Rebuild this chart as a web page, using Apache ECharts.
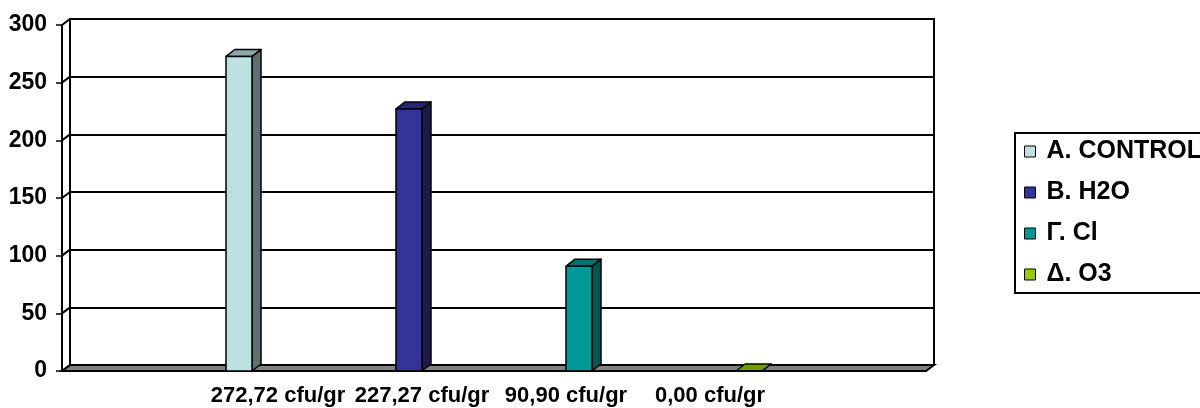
<!DOCTYPE html>
<html>
<head>
<meta charset="utf-8">
<script src="https://cdn.jsdelivr.net/npm/echarts@6/dist/echarts.min.js"></script>
<style>
  html, body { margin: 0; padding: 0; background: #fff; }
  #chart { width: 1200px; height: 408px; }
</style>
</head>
<body>
<div id="chart"></div>
<script>
// data
var categories = ['', '272,72 cfu/gr', '227,27 cfu/gr', '90,90 cfu/gr', '0,00 cfu/gr', ''];
var seriesNames = ['A. CONTROL', 'B. H2O', 'Γ. Cl', 'Δ. O3'];
var controlValues = [null, 272.72, null, null, null, null];
var h2oValues = [null, null, 227.27, null, null, null];
var clValues = [null, null, null, 90.90, null, null];
var o3Values = [null, null, null, null, 0, null];
var yTicks = [0, 50, 100, 150, 200, 250, 300];

// front / top / side colours per series
var faceColors = [
  ['#bde0e3', '#8ea8aa', '#5d7172'],
  ['#333399', '#262673', '#1a1a4d'],
  ['#009999', '#007373', '#005555'],
  ['#99cc00', '#739900', '#4d6600']
];

var font = 'Liberation Sans, Arial, sans-serif';
var wallDx = 8, wallDy = -6;   // depth of back wall
var barDx = 9, barDy = -7;     // depth of columns

function toPairs(values) {
  var out = [];
  values.forEach(function (v, i) {
    if (v !== null) out.push([i, v]);
  });
  return out;
}

// 3d column drawn from the axis scales
function barRenderer(idx) {
  var c = faceColors[idx];
  return function (params, api) {
    var cat = api.value(0);
    var val = api.value(1);
    var band = api.size([1, 0])[0];
    var bw = band * 0.7222 / 4;
    var base = api.coord([cat, 0]);
    var top = api.coord([cat, val]);
    var x0 = base[0] - 2 * bw + idx * bw;
    var x1 = x0 + bw;
    var yb = base[1], yt = top[1];
    var stroke = { stroke: '#000', lineWidth: 1.5, lineJoin: 'round' };
    return {
      type: 'group',
      children: [
        {
          type: 'polygon',
          shape: { points: [[x1, yt], [x1 + barDx, yt + barDy], [x1 + barDx, yb + barDy], [x1, yb]] },
          style: Object.assign({ fill: c[2] }, stroke)
        },
        {
          type: 'polygon',
          shape: { points: [[x0, yt], [x1, yt], [x1 + barDx, yt + barDy], [x0 + barDx, yt + barDy]] },
          style: Object.assign({ fill: c[1] }, stroke)
        },
        {
          type: 'rect',
          shape: { x: x0, y: yt, width: bw, height: yb - yt },
          style: Object.assign({ fill: c[0] }, stroke)
        }
      ]
    };
  };
}

var myChart = echarts.init(document.getElementById('chart'));

var allValues = [controlValues, h2oValues, clValues, o3Values];
var barSeries = allValues.map(function (vals, i) {
  return {
    name: seriesNames[i],
    type: 'custom',
    xAxisIndex: 0,
    yAxisIndex: 0,
    z: 5,
    itemStyle: { color: faceColors[i][0], borderColor: '#000', borderWidth: 1 },
    renderItem: barRenderer(i),
    data: toPairs(vals)
  };
});

var option = {
  backgroundColor: '#fff',
  animation: false,
  legend: {
    data: seriesNames,
    orient: 'vertical',
    left: 1015,
    top: 133,
    icon: 'rect',
    itemWidth: 11,
    itemHeight: 11,
    itemGap: 16,
    padding: [6, 30, 6, 9],
    borderColor: '#000',
    borderWidth: 2,
    itemStyle: { borderColor: '#000', borderWidth: 1 },
    textStyle: {
      fontFamily: font,
      fontWeight: 'bold',
      fontSize: 25,
      lineHeight: 25,
      color: '#000',
      padding: [0, 0, 0, 6]
    }
  },
  grid: [
    { left: 62, right: 274, top: 25, bottom: 37 },
    { left: 70, right: 266, top: 19, bottom: 43, show: true, borderColor: '#000', borderWidth: 2, backgroundColor: '#fff', z: -1 }
  ],
  xAxis: [
    {
      gridIndex: 0,
      type: 'category',
      data: categories,
      axisLine: { lineStyle: { color: '#000', width: 2 } },
      axisTick: { length: 5, lineStyle: { color: '#000', width: 1.5 } },
      axisLabel: { margin: 14, color: '#000', fontFamily: font, fontWeight: 'bold', fontSize: 22, interval: 0 },
      splitLine: { show: false }
    },
    {
      gridIndex: 1,
      type: 'category',
      data: categories,
      axisLine: { show: false },
      axisTick: { show: false },
      axisLabel: { show: false },
      splitLine: { show: false }
    }
  ],
  yAxis: [
    {
      gridIndex: 0,
      type: 'value',
      min: 0,
      max: 300,
      interval: 50,
      axisLine: { show: true, lineStyle: { color: '#000', width: 2 } },
      axisTick: { show: true, length: 6, lineStyle: { color: '#000', width: 1.5 } },
      axisLabel: { margin: 15, color: '#000', fontFamily: font, fontWeight: 'bold', fontSize: 23 },
      splitLine: { show: false }
    },
    {
      gridIndex: 1,
      type: 'value',
      min: 0,
      max: 300,
      interval: 50,
      axisLine: { show: true, lineStyle: { color: '#000', width: 2 } },
      axisTick: { show: false },
      axisLabel: { show: false },
      splitLine: { show: true, lineStyle: { color: '#000', width: 2 } }
    }
  ],
  series: [
    {
      // grey floor of the 3d plot
      name: 'floor',
      type: 'custom',
      xAxisIndex: 0,
      yAxisIndex: 0,
      z: 1,
      silent: true,
      renderItem: function (params, api) {
        var cs = params.coordSys;
        var y = cs.y + cs.height;
        return {
          type: 'polygon',
          shape: { points: [[cs.x, y], [cs.x + cs.width, y], [cs.x + cs.width + wallDx, y + wallDy], [cs.x + wallDx, y + wallDy]] },
          style: { fill: '#808080', stroke: '#000', lineWidth: 2 }
        };
      },
      data: [[0, 0]]
    },
    {
      // side wall edges from front ticks to back wall
      name: 'wall',
      type: 'custom',
      xAxisIndex: 0,
      yAxisIndex: 0,
      z: 1,
      silent: true,
      renderItem: function (params, api) {
        var cs = params.coordSys;
        var p = api.coord([0, api.value(0)]);
        return {
          type: 'line',
          shape: { x1: cs.x, y1: p[1], x2: cs.x + wallDx, y2: p[1] + wallDy },
          style: { stroke: '#000', lineWidth: 2 }
        };
      },
      encode: { y: 0 },
      data: yTicks.map(function (t) { return [t]; })
    }
  ].concat(barSeries)
};

myChart.setOption(option, true);
window.addEventListener('resize', function () {
  myChart.resize();
});
</script>
</body>
</html>
